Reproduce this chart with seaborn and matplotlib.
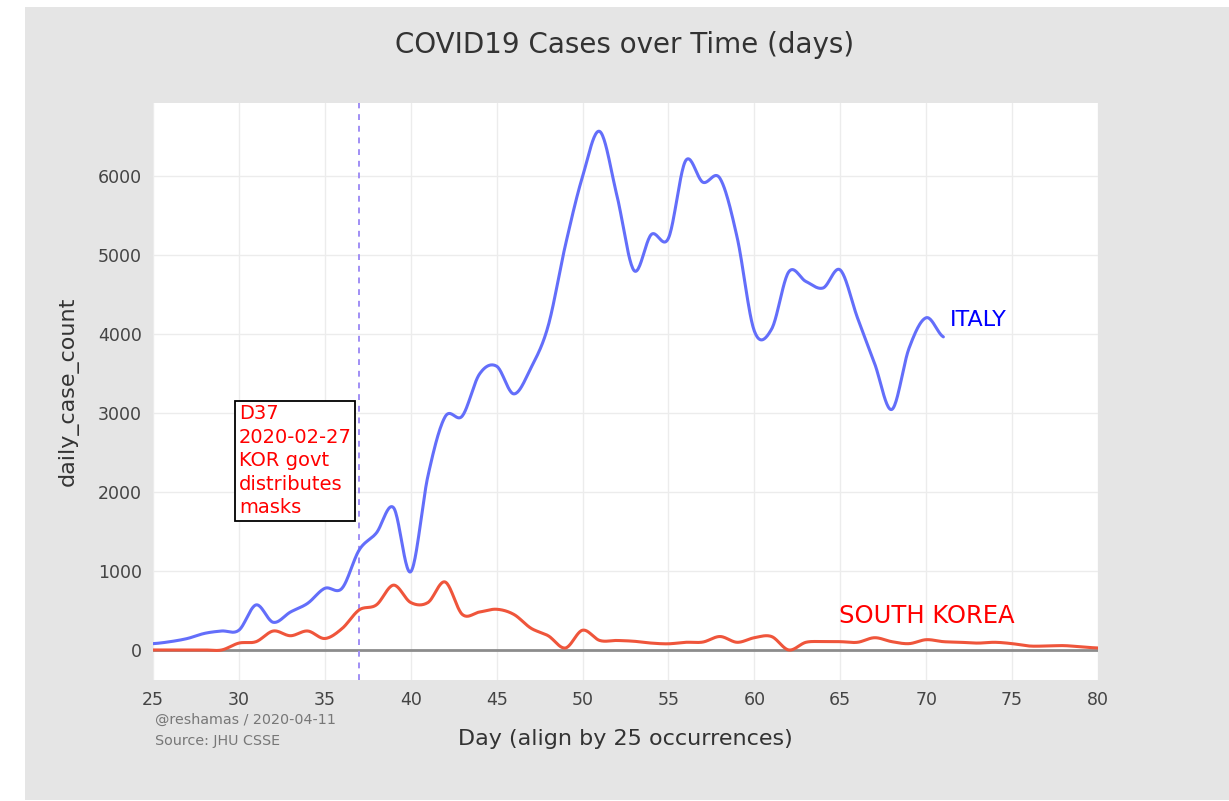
import numpy as np
import pandas as pd
import seaborn as sns
import matplotlib.pyplot as plt
from matplotlib.patches import Rectangle

# daily case counts, aligned by day 25 occurrences
italyDays = list(range(25, 72))
italyCases = [80, 105, 145, 210, 240, 250, 570, 350, 480, 590,
              780, 780, 1265, 1480, 1800, 990, 2200, 2950, 2960, 3490,
              3590, 3240, 3570, 4100, 5120, 5990, 6560, 5750, 4800, 5256,
              5210, 6190, 5918, 5966, 5217, 4034, 4058, 4783, 4662, 4580,
              4807, 4203, 3623, 3043, 3816, 4203, 3961]

koreaDays = list(range(25, 81))
koreaCases = [0, 0, 0, 0, 0, 87, 105, 240, 180, 240,
              145, 270, 507, 570, 820, 600, 600, 860, 450, 480,
              515, 450, 275, 180, 25, 250, 120, 120, 110, 87,
              78, 97, 100, 170, 97, 155, 170, 0, 97, 105,
              105, 97, 155, 105, 80, 130, 105, 97, 87, 97,
              80, 50, 50, 55, 40, 25]

eventDay = 37
eventText = 'D37\n2020-02-27\nKOR govt\ndistributes\nmasks'
xTicks = list(range(25, 81, 5))
yTicks = list(range(0, 7000, 1000))


def splineSmooth(xs, ys, steps=24):
    # catmull-rom style rendering of the line, like a plotly spline
    xs = np.asarray(xs, float)
    ys = np.asarray(ys, float)
    px = np.concatenate([[2 * xs[0] - xs[1]], xs, [2 * xs[-1] - xs[-2]]])
    py = np.concatenate([[ys[0]], ys, [ys[-1]]])
    outX, outY = [], []
    for i in range(1, len(px) - 2):
        t = np.linspace(0, 1, steps, endpoint=False)
        for p, out in ((px, outX), (py, outY)):
            p0, p1, p2, p3 = p[i - 1], p[i], p[i + 1], p[i + 2]
            out.extend(0.5 * ((2 * p1) + (-p0 + p2) * t
                              + (2 * p0 - 5 * p1 + 4 * p2 - p3) * t ** 2
                              + (-p0 + 3 * p1 - 3 * p2 + p3) * t ** 3))
    outX.append(xs[-1])
    outY.append(ys[-1])
    return np.array(outX), np.array(outY)


ix, iy = splineSmooth(italyDays, italyCases)
kx, ky = splineSmooth(koreaDays, koreaCases)
df = pd.concat([
    pd.DataFrame({'day': ix, 'cases': iy, 'country': 'ITALY'}),
    pd.DataFrame({'day': kx, 'cases': ky, 'country': 'SOUTH KOREA'}),
])

sns.set_theme(style='whitegrid')
plt.rcParams['font.family'] = ['DejaVu Sans']

fig = plt.figure(figsize=(12.29, 8.01), dpi=100)
fig.patch.set_facecolor('white')
fig.patches.append(Rectangle((25 / 1229, 1 / 801), 1 - 25 / 1229, 793 / 801,
                             transform=fig.transFigure, facecolor='#e5e5e5',
                             edgecolor='none', zorder=-5))
ax = fig.add_axes([153 / 1229, 1 - 680 / 801, 945 / 1229, 577 / 801])
ax.set_zorder(1)
ax.set_facecolor('white')

sns.lineplot(data=df, x='day', y='cases', hue='country', sort=False,
             palette={'ITALY': '#636efa', 'SOUTH KOREA': '#ef553b'},
             linewidth=2.2, legend=False, ax=ax, zorder=3)

ax.axhline(0, color='#8c8c8c', linewidth=2, zorder=2)
ax.axvline(eventDay, color='#a08ef5', linewidth=1.4, linestyle=(0, (3, 3)), zorder=2)

ax.set_xlim(25, 80)
ax.set_ylim(-380, 6920)
ax.set_xticks(xTicks)
ax.set_yticks(yTicks)
ax.grid(True, color='#ececec', linewidth=1)
for s in ax.spines.values():
    s.set_visible(False)
ax.tick_params(axis='both', labelsize=12.5, labelcolor='#444444', length=0, pad=8)

ax.set_xlabel('Day (align by 25 occurrences)', fontsize=16, color='#333333', labelpad=14)
ax.set_ylabel('daily_case_count', fontsize=16, color='#333333', labelpad=14)
fig.text(625 / 1229, 1 - 45 / 801, 'COVID19 Cases over Time (days)', ha='center',
         va='center', fontsize=20, color='#333333')

ax.text(71.4, 4180, 'ITALY', color='#0000ff', fontsize=16, va='center', ha='left')
ax.text(64.9, 430, 'SOUTH KOREA', color='#ff0000', fontsize=17.5, va='center', ha='left')

ax.text(30.0, 2392, eventText, color='#ff0000', fontsize=14, ha='left', va='center',
        linespacing=1.3, zorder=5,
        bbox=dict(boxstyle='square,pad=0.18', facecolor='white', edgecolor='black', linewidth=1.3))

fig.text(155 / 1229, 1 - 720 / 801, '@reshamas / 2020-04-11', fontsize=10.3,
         color='#777777', va='center', ha='left')
fig.text(155 / 1229, 1 - 741 / 801, 'Source: JHU CSSE', fontsize=10.3,
         color='#777777', va='center', ha='left')

fig.savefig('out.png', dpi=100)
